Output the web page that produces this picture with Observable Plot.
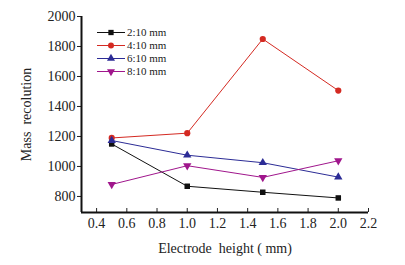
<!DOCTYPE html>
<html><head><meta charset="utf-8">
<script src="https://cdn.jsdelivr.net/npm/d3@7"></script>
<script src="https://cdn.jsdelivr.net/npm/@observablehq/plot@0.6"></script>
<style>
body{margin:0;background:#fff;}
svg, svg text{font-family:"Liberation Serif",serif !important;}
</style></head>
<body><div id="chart"></div>
<script>
const heights = [0.5, 1.0, 1.5, 2.0];
const seriesNames = ["2:10 mm", "4:10 mm", "6:10 mm", "8:10 mm"];
const s2 = [1150, 868, 828, 790];
const s4 = [1190, 1222, 1850, 1506];
const s6 = [1173, 1075, 1025, 929];
const s8 = [880, 1005, 927, 1038];
const xTicks = [0.4, 0.6, 0.8, 1.0, 1.2, 1.4, 1.6, 1.8, 2.0, 2.2];
const yTicks = [800, 1000, 1200, 1400, 1600, 1800, 2000];
const colors = ["#111111", "#d42a22", "#2c2c96", "#a0168c"];

const values = [s2, s4, s6, s8];
const data = [];
seriesNames.forEach((name, i) => heights.forEach((h, j) => data.push({series: name, x: h, y: values[i][j]})));

const sqrt3 = Math.sqrt(3);
const triDown = {draw(ctx, size){ const y = -Math.sqrt(size / (sqrt3 * 3)); ctx.moveTo(0, -2 * y); ctx.lineTo(-sqrt3 * y, y); ctx.lineTo(sqrt3 * y, y); ctx.closePath(); }};

const symMap = {
  [seriesNames[0]]: d3.symbolSquare,
  [seriesNames[1]]: d3.symbolCircle,
  [seriesNames[2]]: d3.symbolTriangle,
  [seriesNames[3]]: triDown
};

const plot = Plot.plot({
  width: 405,
  height: 265,
  marginLeft: 81,
  marginRight: 37,
  marginTop: 16,
  marginBottom: 53,
  style: {fontFamily: "'Liberation Serif', serif", fontSize: "14px", color: "#222", background: "#fff"},
  x: {domain: [0.3, 2.2], label: null},
  y: {domain: [693, 2000], label: null},
  color: {domain: seriesNames, range: colors},
  symbol: {domain: seriesNames, range: seriesNames.map(n => symMap[n])},
  marks: [
    Plot.axisX({ticks: xTicks, tickSize: -4, tickFormat: d3.format(".1f"), tickPadding: 10, fontSize: 14, stroke: "#222"}),
    Plot.axisY({ticks: yTicks, tickSize: 4, tickPadding: 2, tickFormat: d3.format("d"), fontSize: 14, stroke: "#222"}),
    Plot.axisX({ticks: [], label: "Electrode  height ( mm)", labelAnchor: "center", labelArrow: "none", labelOffset: 40, fontSize: 14}),
    Plot.axisY({ticks: [], label: "Mass  recolution", labelAnchor: "center", labelArrow: "none", labelOffset: 60, fontSize: 14}),
    Plot.ruleY([693], {stroke: "#111", strokeWidth: 2}),
    Plot.ruleX([0.3], {stroke: "#111", strokeWidth: 2}),
    Plot.line(data, {x: "x", y: "y", z: "series", stroke: "series", strokeWidth: 1}),
    Plot.dot(data, {x: "x", y: "y", fill: "series", symbol: "series", r: 3.1, stroke: "none"})
  ]
});
document.getElementById("chart").append(plot);

// legend (layout only)
const svg = d3.select(plot);
const lg = svg.append("g").attr("font-size", 11).attr("text-anchor", "start");
const rowY = [32.5, 45.5, 58.5, 71.5];
seriesNames.forEach((name, i) => {
  const g = lg.append("g").attr("transform", `translate(0,${rowY[i]})`);
  g.append("line").attr("x1", 97).attr("x2", 125).attr("y1", 0).attr("y2", 0).attr("stroke", colors[i]).attr("stroke-width", 1);
  const sym = d3.symbol(symMap[name], 28);
  g.append("path").attr("d", sym()).attr("transform", "translate(111,0)").attr("fill", colors[i]);
  g.append("text").attr("x", 127).attr("y", 0).attr("dy", "0.32em").attr("fill", "#222").attr("text-anchor", "start").text(name);
});
</script></body></html>
